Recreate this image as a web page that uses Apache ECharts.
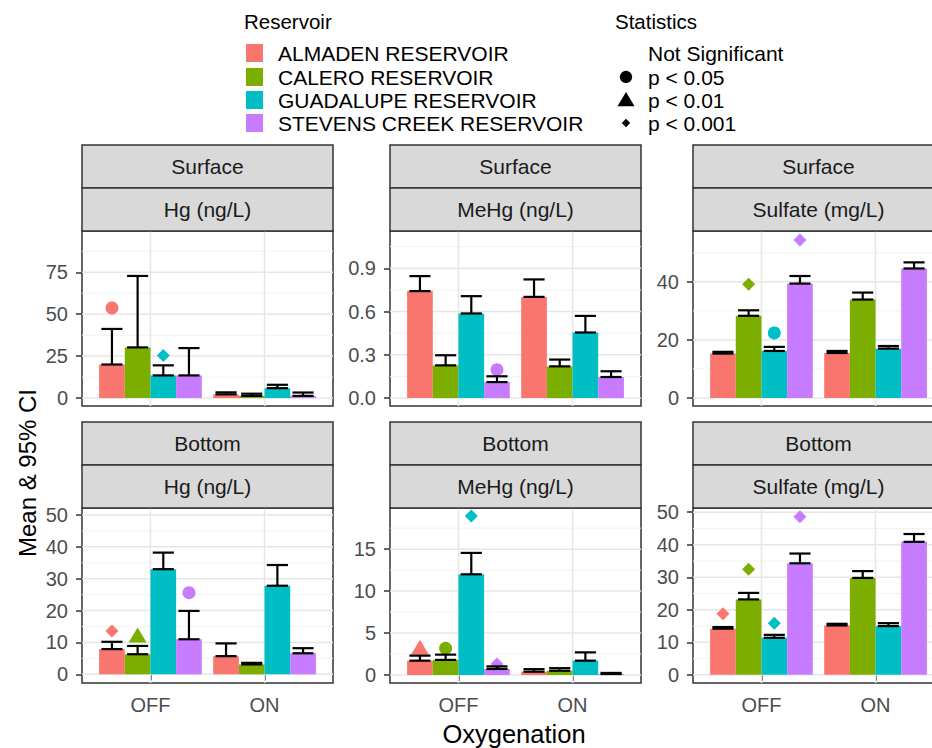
<!DOCTYPE html>
<html>
<head>
<meta charset="utf-8">
<script src="https://cdn.jsdelivr.net/npm/echarts@6/dist/echarts.min.js"></script>
<style>
  html, body { margin: 0; padding: 0; background: #ffffff; }
  #chart { width: 932px; height: 748px; }
</style>
</head>
<body>
<div id="chart"></div>
<script>
// ---- categories ----
const reservoirs = ['ALMADEN RESERVOIR', 'CALERO RESERVOIR', 'GUADALUPE RESERVOIR', 'STEVENS CREEK RESERVOIR'];
const oxygenation = ['OFF', 'ON'];
const depths = ['Surface', 'Bottom'];
const analytes = ['Hg (ng/L)', 'MeHg (ng/L)', 'Sulfate (mg/L)'];
const statLabels = ['Not Significant', 'p < 0.05', 'p < 0.01', 'p < 0.001'];
// significance codes: 0 = not significant, 1 = p < 0.05, 2 = p < 0.01, 3 = p < 0.001

// ---- values: [reservoir][OFF, ON] ----
const surfHgMean   = [[20.0, 2.2], [30.2, 1.3], [13.5, 5.9], [13.5, 1.3]];
const surfHgUpper  = [[41.2, 3.4], [72.8, 2.6], [19.5, 7.9], [29.8, 3.3]];
const surfHgSig    = [1, 0, 3, 0];
const surfHgSigY   = [53.7, null, 25.3, null];

const surfMeHgMean  = [[0.742, 0.702], [0.227, 0.220], [0.587, 0.455], [0.111, 0.146]];
const surfMeHgUpper = [[0.846, 0.823], [0.297, 0.267], [0.707, 0.570], [0.151, 0.186]];
const surfMeHgSig   = [0, 0, 0, 1];
const surfMeHgSigY  = [null, null, null, 0.197];

const surfSo4Mean  = [[15.3, 15.5], [28.3, 33.9], [16.2, 17.0], [39.4, 44.6]];
const surfSo4Upper = [[15.9, 16.2], [30.2, 36.3], [17.6, 17.9], [42.0, 46.7]];
const surfSo4Sig   = [0, 3, 1, 3];
const surfSo4SigY  = [null, 39.2, 22.4, 54.4];

const botHgMean  = [[7.9, 5.7], [6.3, 3.1], [33.0, 27.8], [11.0, 6.6]];
const botHgUpper = [[10.2, 9.7], [8.9, 3.6], [38.2, 34.3], [19.9, 8.2]];
const botHgSig   = [3, 2, 0, 1];
const botHgSigY  = [13.6, 12.0, null, 25.6];

const botMeHgMean  = [[1.71, 0.40], [1.80, 0.51], [12.0, 1.71], [0.72, 0.12]];
const botMeHgUpper = [[2.31, 0.70], [2.43, 0.82], [14.55, 2.70], [1.03, 0.25]];
const botMeHgSig   = [2, 1, 3, 3];
const botMeHgSigY  = [3.2, 3.18, 18.95, 1.3];

const botSo4Mean  = [[14.2, 15.2], [23.2, 29.8], [11.4, 15.0], [34.3, 40.9]];
const botSo4Upper = [[14.7, 15.7], [25.2, 31.9], [12.3, 15.9], [37.3, 43.3]];
const botSo4Sig   = [3, 3, 3, 3];
const botSo4SigY  = [18.8, 32.5, 15.9, 48.6];

// ---- tick labels and axis limits ----
const surfHgTicks   = [0, 25, 50, 75];
const surfMeHgTicks = [0, 0.3, 0.6, 0.9];
const surfSo4Ticks  = [0, 20, 40];
const botHgTicks    = [0, 10, 20, 30, 40, 50];
const botMeHgTicks  = [0, 5, 10, 15];
const botSo4Ticks   = [0, 10, 20, 30, 40, 50];

const surfHgLim   = [-4.74, 99.6];
const surfMeHgLim = [-0.055, 1.159];
const surfSo4Lim  = [-2.75, 57.5];
const botHgLim    = [-2.73, 52.2];
const botMeHgLim  = [-0.95, 19.9];
const botSo4Lim   = [-2.5, 51.3];

// ---- styling ----
const palette = ['#F8766D', '#7CAE00', '#00BFC4', '#C77CFF'];
const FONT = '"Liberation Sans", Arial, sans-serif';
const X_LIM = [0.4, 2.6];
const BAR_W = 0.225;     // each of the four dodged bars (0.9 / 4)
const CAP_W = 0.185;
const colLeft = [82, 390, 693];
const PANEL_W = 251;
const rowTop = [231, 508];
const PANEL_H = 175;
const stripTop = [[145, 188], [422, 465]];

const panels = [
  { row: 0, col: 0, mean: surfHgMean, upper: surfHgUpper, sig: surfHgSig, sigY: surfHgSigY, ticks: surfHgTicks, lim: surfHgLim, dec: 0 },
  { row: 0, col: 1, mean: surfMeHgMean, upper: surfMeHgUpper, sig: surfMeHgSig, sigY: surfMeHgSigY, ticks: surfMeHgTicks, lim: surfMeHgLim, dec: 1 },
  { row: 0, col: 2, mean: surfSo4Mean, upper: surfSo4Upper, sig: surfSo4Sig, sigY: surfSo4SigY, ticks: surfSo4Ticks, lim: surfSo4Lim, dec: 0 },
  { row: 1, col: 0, mean: botHgMean, upper: botHgUpper, sig: botHgSig, sigY: botHgSigY, ticks: botHgTicks, lim: botHgLim, dec: 0 },
  { row: 1, col: 1, mean: botMeHgMean, upper: botMeHgUpper, sig: botMeHgSig, sigY: botMeHgSigY, ticks: botMeHgTicks, lim: botMeHgLim, dec: 0 },
  { row: 1, col: 2, mean: botSo4Mean, upper: botSo4Upper, sig: botSo4Sig, sigY: botSo4SigY, ticks: botSo4Ticks, lim: botSo4Lim, dec: 0 }
];

// shape for a significance marker centred on pixel point p
function sigShape(code, p, color, scale) {
  const s = scale || 1;
  if (code === 1) {
    return { type: 'circle', shape: { cx: p[0], cy: p[1], r: 6.5 * s }, style: { fill: color } };
  }
  if (code === 2) {
    const hw = 9 * s, hh = 7.5 * s;
    return { type: 'polygon', shape: { points: [[p[0], p[1] - hh - 1], [p[0] + hw, p[1] + hh - 1], [p[0] - hw, p[1] + hh - 1]] }, style: { fill: color } };
  }
  if (code === 3) {
    const h = 6.5 * s;
    return { type: 'polygon', shape: { points: [[p[0], p[1] - h], [p[0] + h, p[1]], [p[0], p[1] + h], [p[0] - h, p[1]]] }, style: { fill: color } };
  }
  return null;
}

function gridLineData(ticks, lim) {
  const out = [];
  const step = ticks[1] - ticks[0];
  ticks.forEach(t => out.push([0, t]));
  for (let v = ticks[0] - step / 2; v <= lim[1]; v += step) {
    if (v >= lim[0]) out.push([1, v]);
  }
  oxygenation.forEach((_, i) => out.push([2, i + 1]));
  return out;
}

const grids = [], xAxes = [], yAxes = [], series = [], graphics = [];

panels.forEach((pn, idx) => {
  grids.push({
    left: colLeft[pn.col], top: rowTop[pn.row], width: PANEL_W, height: PANEL_H,
    show: true, backgroundColor: '#ffffff', borderColor: '#333333', borderWidth: 1.5,
    containLabel: false, outerBoundsMode: 'none'
  });
  const isBottom = pn.row === 1;
  xAxes.push({
    type: 'value', gridIndex: idx, min: X_LIM[0], max: X_LIM[1],
    axisLine: { show: false },
    splitLine: { show: false },
    axisTick: { show: isBottom, customValues: [1, 2], length: 6, lineStyle: { color: '#333333', width: 1.5 } },
    axisLabel: {
      show: isBottom, customValues: [1, 2], margin: 12,
      color: '#4d4d4d', fontSize: 20, fontFamily: FONT,
      formatter: v => oxygenation[Math.round(v) - 1] || ''
    }
  });
  yAxes.push({
    type: 'value', gridIndex: idx, min: pn.lim[0], max: pn.lim[1],
    axisLine: { show: false },
    splitLine: { show: false },
    axisTick: { show: true, customValues: pn.ticks, length: 6, lineStyle: { color: '#333333', width: 1.5 } },
    axisLabel: {
      show: true, customValues: pn.ticks, margin: 14,
      color: '#4d4d4d', fontSize: 20, fontFamily: FONT,
      formatter: v => Number(v).toFixed(pn.dec)
    }
  });

  // background grid lines
  series.push({
    type: 'custom', xAxisIndex: idx, yAxisIndex: idx, z: 1, silent: true,
    data: gridLineData(pn.ticks, pn.lim),
    encode: { x: 1, y: 1 },
    renderItem: (params, api) => {
      const kind = api.value(0), v = api.value(1);
      let a, b;
      if (kind === 2) { a = api.coord([v, pn.lim[0]]); b = api.coord([v, pn.lim[1]]); }
      else { a = api.coord([X_LIM[0], v]); b = api.coord([X_LIM[1], v]); }
      return {
        type: 'line', shape: { x1: a[0], y1: a[1], x2: b[0], y2: b[1] },
        style: { stroke: kind === 1 ? '#f2f2f2' : '#e6e6e6', lineWidth: kind === 1 ? 1 : 1.5 }
      };
    }
  });

  // bars, significance markers and upper 95% CI error bars
  const data = [];
  reservoirs.forEach((_, r) => {
    oxygenation.forEach((__, o) => {
      const code = o === 0 ? pn.sig[r] : 0;
      const sy = code ? pn.sigY[r] : 0;
      data.push([o + 1, r, pn.mean[r][o], pn.upper[r][o], code, sy]);
    });
  });
  series.push({
    type: 'custom', xAxisIndex: idx, yAxisIndex: idx, z: 3, silent: true,
    data: data,
    encode: { x: 0, y: 2 },
    renderItem: (params, api) => {
      const ox = api.value(0), r = api.value(1), mean = api.value(2), up = api.value(3);
      const code = api.value(4), sy = api.value(5);
      const xc = ox + (r - 1.5) * BAR_W;
      const a = api.coord([xc - BAR_W / 2, 0]);
      const b = api.coord([xc + BAR_W / 2, mean]);
      const children = [{
        type: 'rect', shape: { x: a[0], y: b[1], width: b[0] - a[0], height: a[1] - b[1] },
        style: { fill: palette[r] }
      }];
      if (code) {
        const m = sigShape(code, api.coord([xc, sy]), palette[r]);
        if (m) children.push(m);
      }
      const pm = api.coord([xc, mean]), pu = api.coord([xc, up]);
      const hc = api.size([CAP_W, 0])[0] / 2;
      const ln = { stroke: '#000000', lineWidth: 2.2 };
      children.push({ type: 'line', shape: { x1: pm[0], y1: pm[1], x2: pu[0], y2: pu[1] }, style: ln });
      children.push({ type: 'line', shape: { x1: pm[0] - hc, y1: pm[1], x2: pm[0] + hc, y2: pm[1] }, style: ln });
      children.push({ type: 'line', shape: { x1: pu[0] - hc, y1: pu[1], x2: pu[0] + hc, y2: pu[1] }, style: ln });
      return { type: 'group', children: children };
    }
  });
});

// facet strips
depths.forEach((depth, row) => {
  analytes.forEach((an, col) => {
    const labels = [depth, an];
    labels.forEach((txt, k) => {
      const y0 = k === 0 ? stripTop[row][0] : stripTop[row][1];
      const y1 = k === 0 ? stripTop[row][1] : rowTop[row];
      graphics.push({
        type: 'rect', z: 10,
        shape: { x: colLeft[col], y: y0, width: PANEL_W, height: y1 - y0 },
        style: { fill: '#d9d9d9', stroke: '#333333', lineWidth: 1.5 }
      });
      graphics.push({
        type: 'text', z: 11,
        x: colLeft[col] + PANEL_W / 2, y: (y0 + y1) / 2,
        style: { text: txt, fill: '#1a1a1a', font: '21px ' + FONT, textAlign: 'center', textVerticalAlign: 'middle' }
      });
    });
  });
});

// axis titles
graphics.push({
  type: 'text', z: 11, x: 27, y: 473, rotation: Math.PI / 2,
  style: { text: 'Mean & 95% CI', fill: '#000000', font: '24px ' + FONT, textAlign: 'center', textVerticalAlign: 'middle' }
});
graphics.push({
  type: 'text', z: 11, x: 514, y: 734,
  style: { text: 'Oxygenation', fill: '#000000', font: '25.5px ' + FONT, textAlign: 'center', textVerticalAlign: 'middle' }
});

// legends
const legendRows = [53, 77, 100, 123];
graphics.push({
  type: 'text', z: 11, x: 244, y: 21,
  style: { text: 'Reservoir', fill: '#000000', font: '20.5px ' + FONT, textAlign: 'left', textVerticalAlign: 'middle' }
});
reservoirs.forEach((name, i) => {
  graphics.push({
    type: 'rect', z: 11, shape: { x: 246, y: legendRows[i] - 9, width: 17, height: 18 },
    style: { fill: palette[i] }
  });
  graphics.push({
    type: 'text', z: 11, x: 278, y: legendRows[i],
    style: { text: name, fill: '#000000', font: '21px ' + FONT, textAlign: 'left', textVerticalAlign: 'middle' }
  });
});
graphics.push({
  type: 'text', z: 11, x: 615, y: 21,
  style: { text: 'Statistics', fill: '#000000', font: '20.5px ' + FONT, textAlign: 'left', textVerticalAlign: 'middle' }
});
statLabels.forEach((lab, i) => {
  const m = sigShape(i, [626, legendRows[i]], '#000000', i === 3 ? 0.65 : 0.95);
  if (m) { m.z = 11; graphics.push(m); }
  graphics.push({
    type: 'text', z: 11, x: 648, y: legendRows[i],
    style: { text: lab, fill: '#000000', font: '21px ' + FONT, textAlign: 'left', textVerticalAlign: 'middle' }
  });
});

const chart = echarts.init(document.getElementById('chart'), null, { renderer: 'svg' });
chart.setOption({
  backgroundColor: '#ffffff',
  animation: false,
  textStyle: { fontFamily: FONT },
  grid: grids,
  xAxis: xAxes,
  yAxis: yAxes,
  series: series,
  graphic: graphics
});
</script>
</body>
</html>
